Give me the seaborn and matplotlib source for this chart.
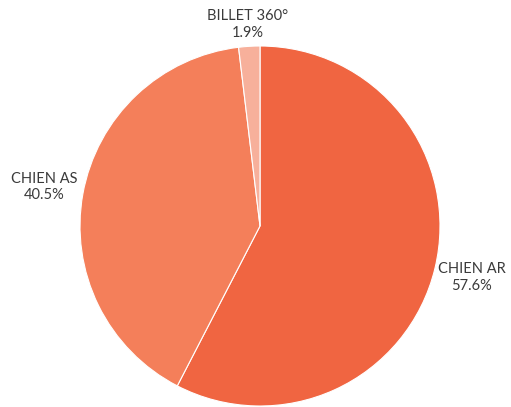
import numpy as np
import matplotlib
matplotlib.use('Agg')
import matplotlib.pyplot as plt
import seaborn as sns

# Chart data
categories = ['CHIEN AR', 'CHIEN AS', 'BILLET 360°']
shares = [57.6, 40.5, 1.9]
colors = ['#F06541', '#F47F5A', '#F7B09B']
label_dist = [1.21, 1.22, 1.12]

sns.set_theme(style='white')
plt.rcParams['font.family'] = ['Lato', 'DejaVu Sans']

fig = plt.figure(figsize=(5.11, 4.07), dpi=100)
ax = fig.add_axes([80 / 511, 1 / 407, 360 / 511, 360 / 407])

wedges, _ = ax.pie(shares, colors=colors, startangle=90, counterclock=False,
                   radius=1, wedgeprops={'edgecolor': 'white', 'linewidth': 0.8})

# put the two-line labels just outside each slice
for w, name, val, d in zip(wedges, categories, shares, label_dist):
    ang = np.deg2rad((w.theta1 + w.theta2) / 2)
    ax.text(d * np.cos(ang), d * np.sin(ang), f'{name}\n{val}%',
            ha='center', va='center', fontsize=10.5, color='#3a3a3a',
            linespacing=1.25, clip_on=False)

ax.set_xlim(-1, 1)
ax.set_ylim(-1, 1)
ax.set_aspect('equal')
ax.axis('off')

fig.savefig('out.png', dpi=100)
